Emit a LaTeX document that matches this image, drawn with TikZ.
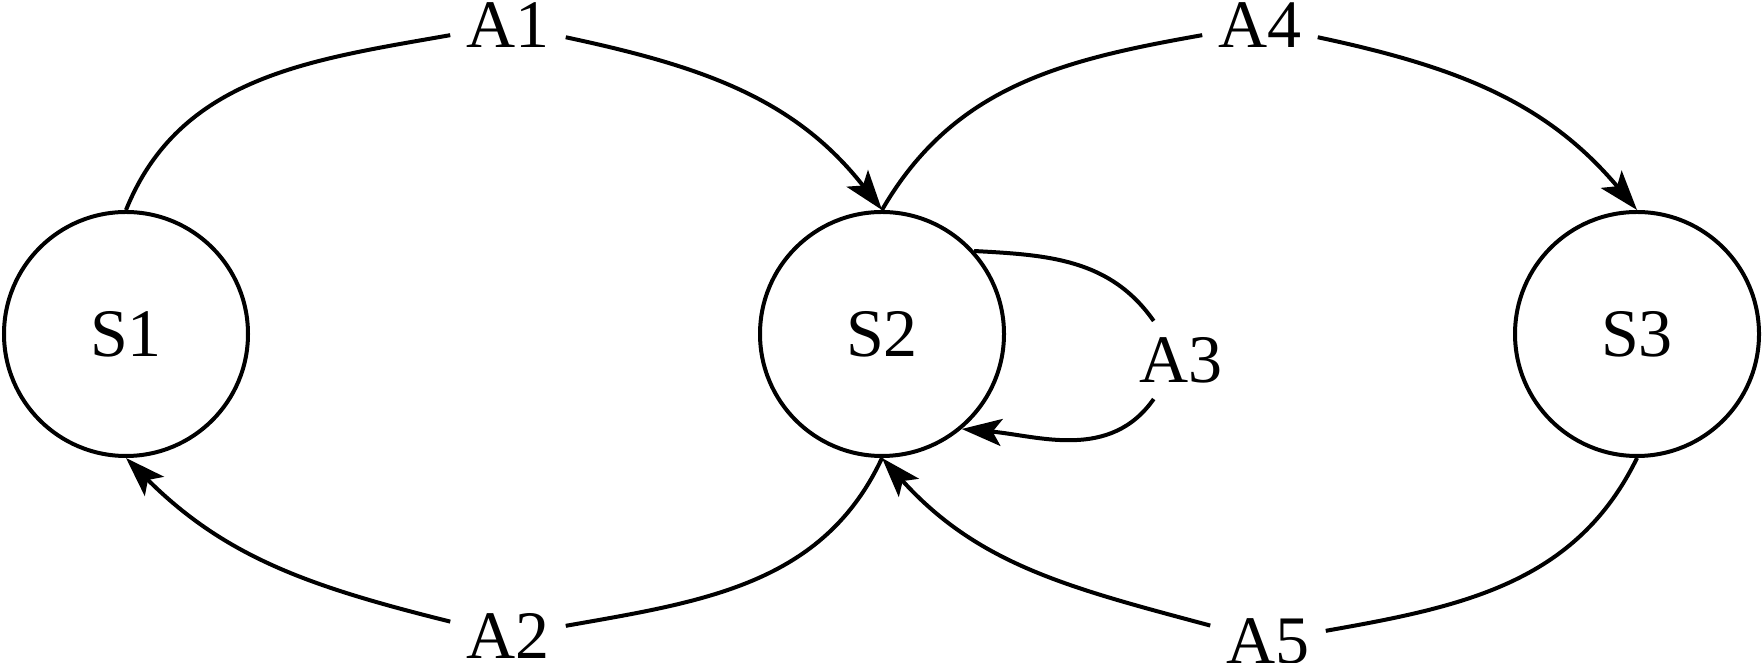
\documentclass[tikz,border=0pt]{standalone}
\usepackage{fontspec}
\setmainfont{Liberation Serif}
\usetikzlibrary{arrows.meta}
\begin{document}
\begin{tikzpicture}[x=1pt,y=1pt,
  state/.style={circle,draw,line width=4pt,minimum size=244pt,inner sep=0pt,font=\fontsize{68}{70}\selectfont},
  lbl/.style={inner sep=16pt,font=\fontsize{68}{70}\selectfont},
  edge/.style={line width=4pt},
  arr/.style={edge,-{Stealth[length=40pt,width=27pt,inset=9pt]}}]
\useasboundingbox (0,0) rectangle (1764,663);
\node[state] (S1) at (126,329) {S1};
\node[state] (S2) at (882,329) {S2};
\node[state] (S3) at (1637,329) {S3};
\node[lbl] (A1) at (508,638) {A1};
\node[lbl] (A4) at (1260,638) {A4};
\node[lbl] (A2) at (508,27) {A2};
\node[lbl] (A5) at (1268,22) {A5};
\node[lbl] (A3) at (1181,303) {A3};
% A1
\draw[edge] (S1.north) to[out=68,in=190] (A1);
\draw[arr] (A1) to[out=-12,in=128] (S2.north);
% A4
\draw[edge] (S2.north) to[out=60,in=190] (A4);
\draw[arr] (A4) to[out=-12,in=130] (S3.north);
% A2
\draw[edge] (S2.south) to[out=245,in=10] (A2);
\draw[arr] (A2) to[out=166,in=-45] (S1.south);
% A5
\draw[edge] (S3.south) to[out=244,in=10] (A5);
\draw[arr] (A5) to[out=165,in=-48] (S2.south);
% A3
\draw[edge] (S2.42) to[out=-3,in=125] (A3);
\draw[arr] (A3) to[out=235,in=-5] (S2.-50);
\end{tikzpicture}
\end{document}
